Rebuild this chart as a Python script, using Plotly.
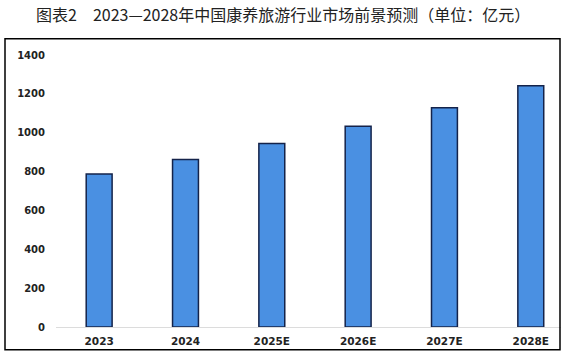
import plotly.graph_objects as go

categories = ["2023", "2024", "2025E", "2026E", "2027E", "2028E"]
values = [788, 862, 944, 1033, 1128, 1242]
y_ticks = [0, 200, 400, 600, 800, 1000, 1200, 1400]

title_text = "图表2　2023—2028年中国康养旅游行业市场前景预测（单位：亿元）"

fig = go.Figure()
fig.add_trace(go.Bar(
    x=categories, y=values,
    marker=dict(color="#4A90E2", line=dict(color="#14234A", width=1.5)),
    width=0.3,
))

fig.update_layout(
    width=567, height=356,
    margin=dict(l=56, r=6, t=55, b=29),
    paper_bgcolor="white", plot_bgcolor="white",
    showlegend=False,
    font=dict(family="DejaVu Sans", color="#222"),
    annotations=[dict(
        text=title_text, xref="paper", yref="paper",
        x=(283 - 56) / 505, y=(326.7 - 14) / 272, xanchor="center", yanchor="middle",
        showarrow=False,
        font=dict(family="Noto Sans CJK SC", size=16, color="#222"),
    )],
    shapes=[dict(
        type="rect", xref="paper", yref="paper",
        x0=(5 - 56) / 505, x1=(560 - 56) / 505,
        y0=(326.7 - 349.5) / 272, y1=(326.7 - 38.5) / 272,
        line=dict(color="black", width=1.5), fillcolor="rgba(0,0,0,0)",
        layer="above",
    )],
)
fig.update_xaxes(
    range=[-0.5, 5.35], showgrid=False, showline=True, linecolor="#dcdcdc", linewidth=1,
    ticks="", tickfont=dict(family="DejaVu Sans", size=10.5, color="#222", weight="bold"),
    ticklabelstandoff=4,
)
fig.update_yaxes(
    range=[0, 1400], tickvals=y_ticks, showgrid=False, zeroline=False, showline=False,
    ticks="", tickfont=dict(family="DejaVu Sans", size=10, color="#222", weight="bold"),
    ticklabelstandoff=10,
)

fig.write_html("out.html")
